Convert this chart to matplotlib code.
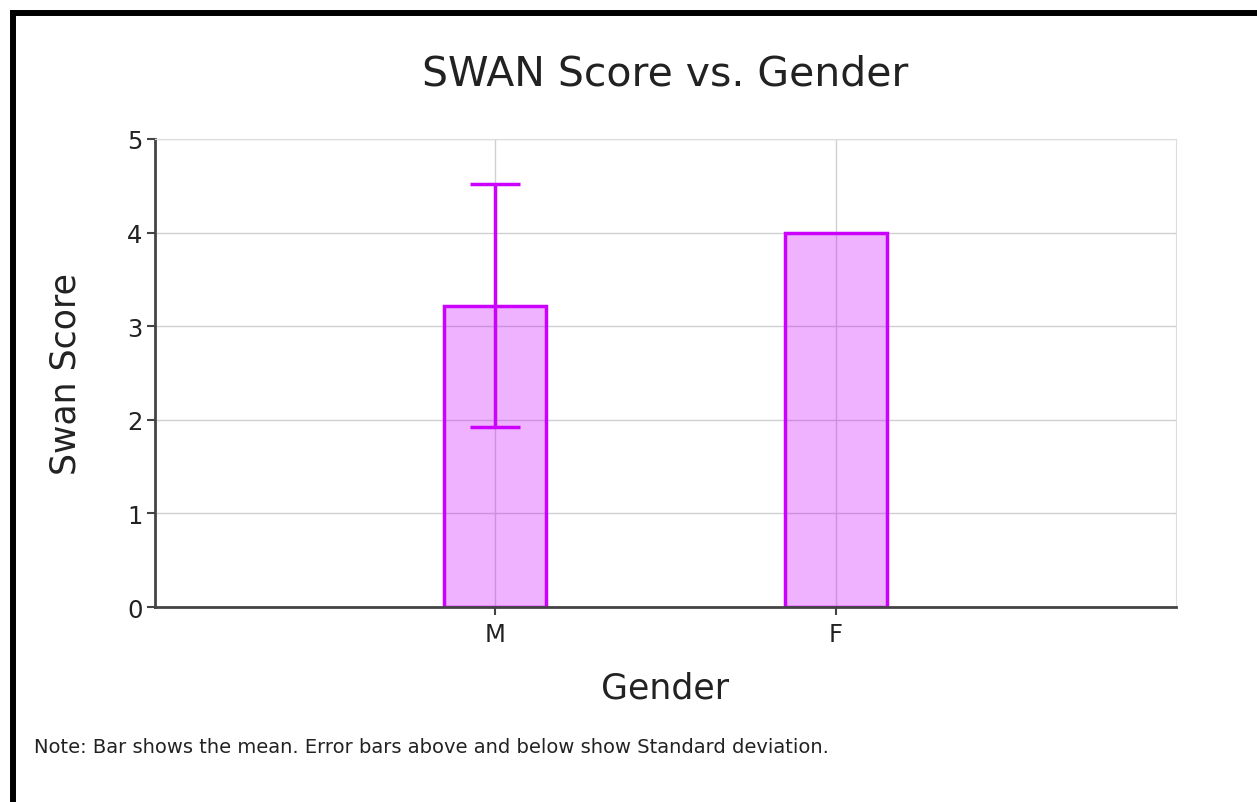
import matplotlib.pyplot as plt
from matplotlib.lines import Line2D

plt.rcParams['font.family'] = ['DejaVu Sans']

# Дані
genders = ['M', 'F']
means = [3.22, 4.0]
sds = [1.3, 0.0]

bar_color = '#cc00ff'

fig = plt.figure(figsize=(12.57, 8.03), dpi=100)
ax = fig.add_axes([155 / 1257, 1 - 608 / 803, 1021 / 1257, 468 / 803])

x = list(range(len(genders)))
ax.bar(x, means, width=0.3, color=bar_color, alpha=0.3, zorder=2)
ax.bar(x, means, width=0.3, color='none', edgecolor=bar_color, linewidth=2.5, zorder=2)

# Похибки тільки там, де є стандартне відхилення
err_x = [i for i, s in zip(x, sds) if s > 0]
err_y = [m for m, s in zip(means, sds) if s > 0]
err_s = [s for s in sds if s > 0]
ax.errorbar(err_x, err_y, yerr=err_s, fmt='none', ecolor=bar_color,
            elinewidth=2.5, capsize=18, capthick=2.5, zorder=3)

ax.set_xlim(-1, 2)
ax.set_ylim(0, 5)
ax.set_xticks(x)
ax.set_xticklabels(genders)
ax.set_yticks([0, 1, 2, 3, 4, 5])
ax.grid(True, color='#d0d0d0', linewidth=1, zorder=0)
ax.set_axisbelow(True)

for side in ['top', 'right']:
    ax.spines[side].set_color('#dddddd')
for side in ['left', 'bottom']:
    ax.spines[side].set_color('#444444')
    ax.spines[side].set_linewidth(2)
ax.tick_params(axis='both', colors='#444444', labelcolor='#222222', labelsize=17.5,
               length=6, width=1.5)
ax.tick_params(axis='x', pad=5)
ax.tick_params(axis='y', pad=3)

ax.set_title('SWAN Score vs. Gender', fontsize=29.5, color='#222222', pad=39)
ax.set_xlabel('Gender', fontsize=25, color='#222222')
ax.set_ylabel('Swan Score', fontsize=25, color='#222222')
ax.xaxis.set_label_coords(0.5, (608 - 689) / 468)
ax.xaxis.label.set_va('center')
ax.yaxis.set_label_coords((65 - 155) / 1021, 0.5)
ax.yaxis.label.set_va('center')

fig.text(34 / 1257, 1 - 748 / 803, 'Note: Bar shows the mean. Error bars above and below show Standard deviation.',
         fontsize=14, color='#222222', va='center')

# Чорна рамка зліва та зверху
fig.add_artist(Line2D([10 / 1257, 1], [1 - 13.5 / 803, 1 - 13.5 / 803], color='black',
                      linewidth=4.3, solid_capstyle='butt'))
fig.add_artist(Line2D([13 / 1257, 13 / 1257], [0, 1 - 11 / 803], color='black',
                      linewidth=4.3, solid_capstyle='butt'))

fig.savefig('out.png', dpi=100)
